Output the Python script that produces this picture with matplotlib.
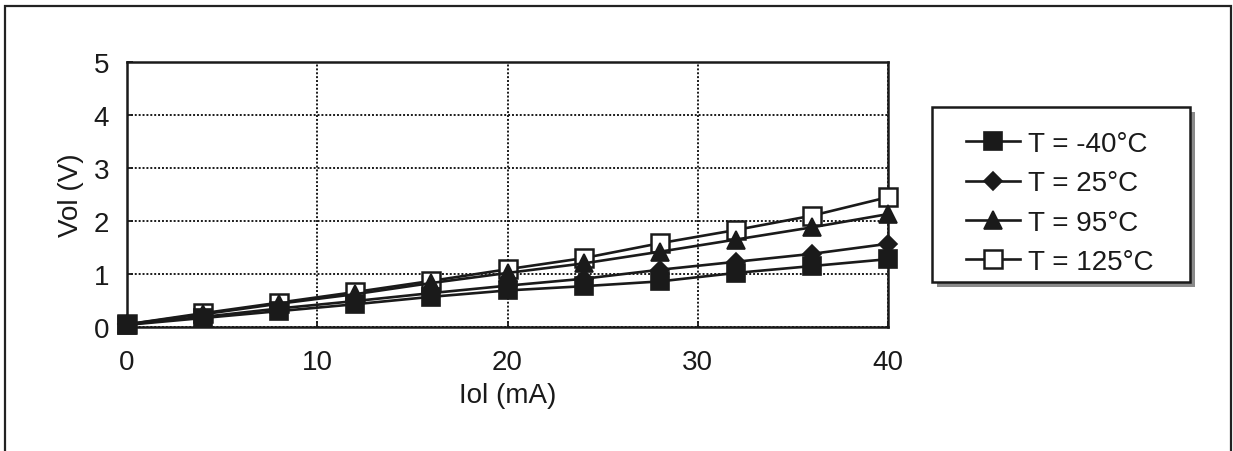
import numpy as np
import matplotlib
matplotlib.use("Agg")
import matplotlib.pyplot as plt
from matplotlib.patches import Rectangle

plt.rcParams['font.family'] = ['Liberation Sans', 'DejaVu Sans']

# Iol (mA) vs Vol (V) at four temperatures
iol_ma = [0, 4, 8, 12, 16, 20, 24, 28, 32, 36, 40]
vol_m40 = [0.04, 0.17, 0.30, 0.43, 0.57, 0.69, 0.77, 0.86, 1.02, 1.15, 1.28]
vol_25 = [0.05, 0.19, 0.35, 0.49, 0.64, 0.78, 0.91, 1.08, 1.23, 1.38, 1.57]
vol_95 = [0.05, 0.24, 0.44, 0.62, 0.83, 1.02, 1.20, 1.42, 1.65, 1.88, 2.13]
vol_125 = [0.05, 0.26, 0.46, 0.66, 0.87, 1.09, 1.30, 1.58, 1.83, 2.10, 2.45]
labels = ['T = -40°C', 'T = 25°C', 'T = 95°C', 'T = 125°C']

W, H = 1233, 452
INK = '#1a1a1a'
fig = plt.figure(figsize=(W / 100, H / 100), dpi=100)
ax = fig.add_axes([127 / W, 1 - 328 / H, (888 - 127) / W, (328 - 63) / H])

# outer frame (bottom edge is cut off in the original)
fig.patches.append(Rectangle((5 / W, -0.1), (1231 - 5) / W, 1.1 - 7 / H,
                             transform=fig.transFigure, fill=False,
                             edgecolor='#222222', linewidth=1.6, clip_on=False))

lw = 1.9
ax.plot(iol_ma, vol_m40, color=INK, lw=lw, marker='s', ms=13.5,
        mfc=INK, mec=INK, mew=1.2, label=labels[0], zorder=3.4, clip_on=False)
ax.plot(iol_ma, vol_25, color=INK, lw=lw, marker='D', ms=9.5,
        mfc=INK, mec=INK, mew=1.2, label=labels[1], zorder=3.3, clip_on=False)
ax.plot(iol_ma, vol_95, color=INK, lw=lw, marker='^', ms=13,
        mfc=INK, mec=INK, mew=1.2, label=labels[2], zorder=3.2, clip_on=False)
ax.plot(iol_ma, vol_125, color=INK, lw=lw, marker='s', ms=12.5,
        mfc='white', mec=INK, mew=1.8, label=labels[3], zorder=3.1, clip_on=False)

ax.set_xlim(0, 40)
ax.set_ylim(0, 5)
ax.set_xticks([0, 10, 20, 30, 40])
ax.set_yticks([0, 1, 2, 3, 4, 5])
ax.grid(True, color=INK, linestyle=(0, (1, 1)), linewidth=1.4)
ax.set_axisbelow(True)
for sp in ax.spines.values():
    sp.set_linewidth(1.8)
    sp.set_color(INK)
    sp.set_zorder(2.5)
ax.tick_params(direction='in', length=4, width=1.3, labelsize=20,
               colors=INK, pad=13)
ax.tick_params(axis='x', pad=16)
ax.set_xlabel('Iol (mA)', fontsize=20, color=INK, labelpad=5)
ax.set_ylabel('Vol (V)', fontsize=20, color=INK, labelpad=7)

# legend box with drop shadow, drawn by hand to match the original frame
box_x0, box_x1, box_top, box_bot = 932, 1190, 108, 283
sh = 5
ax.add_patch(Rectangle(((box_x0 + sh) / W, 1 - (box_bot + sh) / H),
                       (box_x1 - box_x0) / W, (box_bot - box_top) / H,
                       transform=fig.transFigure, facecolor='#8a8a8a',
                       edgecolor='none', zorder=5, clip_on=False))
ax.add_patch(Rectangle((box_x0 / W, 1 - box_bot / H),
                       (box_x1 - box_x0) / W, (box_bot - box_top) / H,
                       transform=fig.transFigure, facecolor='white',
                       edgecolor=INK, linewidth=1.8, zorder=5.5, clip_on=False))

leg = ax.legend(loc='upper left', bbox_to_anchor=(966 / W, 1 - 132 / H),
                bbox_transform=fig.transFigure, borderaxespad=0,
                fontsize=20, frameon=False,
                handlelength=1.95, handletextpad=0.3, labelspacing=0.48,
                borderpad=0, numpoints=1)
leg.set_zorder(6)
for t in leg.get_texts():
    t.set_color(INK)

fig.savefig('out.png', dpi=100)
